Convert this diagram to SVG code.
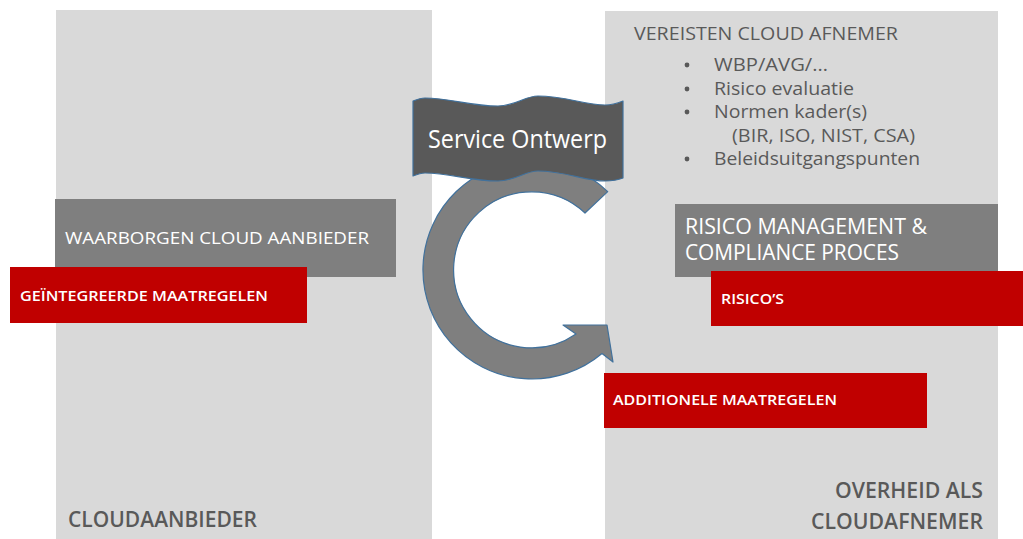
<svg xmlns="http://www.w3.org/2000/svg" width="1023" height="539" viewBox="0 0 1023 539">
  <style>
    .panel { fill: #d9d9d9; }
    .grey { fill: #7f7f7f; }
    .red { fill: #c00000; }
    .t { font-family: "Open Sans", "Liberation Sans", sans-serif; }
    .w { fill: #ffffff; }
    .d { fill: #595959; }
    .semi { font-weight: 600; }
    .shape { stroke: #41719c; stroke-width: 1.2; stroke-linejoin: round; }
    .dot { fill: #595959; }
  </style>

  <rect width="1023" height="539" fill="#ffffff"/>

  <!-- provider column -->
  <g id="cloudaanbieder">
    <rect class="panel" x="56" y="10" width="376" height="529"/>
    <text class="t d semi" x="68" y="527" font-size="21" textLength="189" lengthAdjust="spacingAndGlyphs">CLOUDAANBIEDER</text>
  </g>

  <!-- consumer column -->
  <g id="cloudafnemer">
    <rect class="panel" x="605" y="11" width="393" height="528"/>
    <text class="t d" x="634" y="40" font-size="18" textLength="264" lengthAdjust="spacingAndGlyphs">VEREISTEN CLOUD AFNEMER</text>
    <g class="t d" font-size="18">
      <circle class="dot" cx="687" cy="65" r="2.4"/>
      <text x="714" y="71" textLength="114" lengthAdjust="spacingAndGlyphs">WBP/AVG/…</text>
      <circle class="dot" cx="687" cy="89" r="2.4"/>
      <text x="714" y="95" textLength="140" lengthAdjust="spacingAndGlyphs">Risico evaluatie</text>
      <circle class="dot" cx="687" cy="112" r="2.4"/>
      <text x="714" y="118" textLength="153" lengthAdjust="spacingAndGlyphs">Normen kader(s)</text>
      <text x="732" y="142" textLength="183" lengthAdjust="spacingAndGlyphs">(BIR, ISO, NIST, CSA)</text>
      <circle class="dot" cx="687" cy="159" r="2.4"/>
      <text x="714" y="165" textLength="206" lengthAdjust="spacingAndGlyphs">Beleidsuitgangspunten</text>
    </g>
    <text class="t d semi" x="983" y="498" font-size="21" text-anchor="end" textLength="148" lengthAdjust="spacingAndGlyphs">OVERHEID ALS</text>
    <text class="t d semi" x="983" y="529" font-size="21" text-anchor="end" textLength="172" lengthAdjust="spacingAndGlyphs">CLOUDAFNEMER</text>
  </g>

  <!-- circular arrow -->
  <g id="connectors">
    <path class="grey shape" d="M607.7,191.6 A109,109 0 1 0 602,353.5 L613,362 L607,325 L563,325 L576,334 A78,78 0 1 1 585,213 Z"/>
  </g>

  <!-- banner -->
  <g id="service-ontwerp">
    <path class="shape" fill="#595959" d="M413,101 C418,99 421,98 425,98 C450,98 470,106 498,106 C515,106 525,96 538,96 C565,96 585,105 605,105 C613,105 618,103 623,101 L623,178 C618,180 613,181 605,181 C585,181 565,171 538,171 C525,171 515,181 498,181 C470,181 450,173 425,173 C421,173 418,174 413,176 Z"/>
    <text class="t w" x="428" y="148" font-size="25" font-weight="500" textLength="179" lengthAdjust="spacingAndGlyphs">Service Ontwerp</text>
  </g>

  <g id="waarborgen">
    <rect class="grey" x="55" y="199" width="341" height="78"/>
    <text class="t w" x="65" y="244" font-size="17" font-weight="500" textLength="304" lengthAdjust="spacingAndGlyphs">WAARBORGEN CLOUD AANBIEDER</text>
  </g>

  <g id="geintegreerde-maatregelen">
    <rect class="red" x="10" y="267" width="297" height="56"/>
    <text class="t w semi" x="20" y="301" font-size="15" textLength="248" lengthAdjust="spacingAndGlyphs">GEÏNTEGREERDE MAATREGELEN</text>
  </g>

  <g id="risico-management">
    <rect class="grey" x="675" y="204" width="323" height="73"/>
    <text class="t w" x="685" y="234" font-size="21" font-weight="500" textLength="242" lengthAdjust="spacingAndGlyphs">RISICO MANAGEMENT &amp;</text>
    <text class="t w" x="685" y="260" font-size="21" font-weight="500" textLength="214" lengthAdjust="spacingAndGlyphs">COMPLIANCE PROCES</text>
  </g>

  <g id="risicos">
    <rect class="red" x="711" y="271" width="312" height="55"/>
    <text class="t w semi" x="721" y="304" font-size="15" textLength="63" lengthAdjust="spacingAndGlyphs">RISICO’S</text>
  </g>

  <g id="additionele-maatregelen">
    <rect class="red" x="604" y="373" width="323" height="55"/>
    <text class="t w semi" x="613" y="405" font-size="15" textLength="224" lengthAdjust="spacingAndGlyphs">ADDITIONELE MAATREGELEN</text>
  </g>
</svg>
